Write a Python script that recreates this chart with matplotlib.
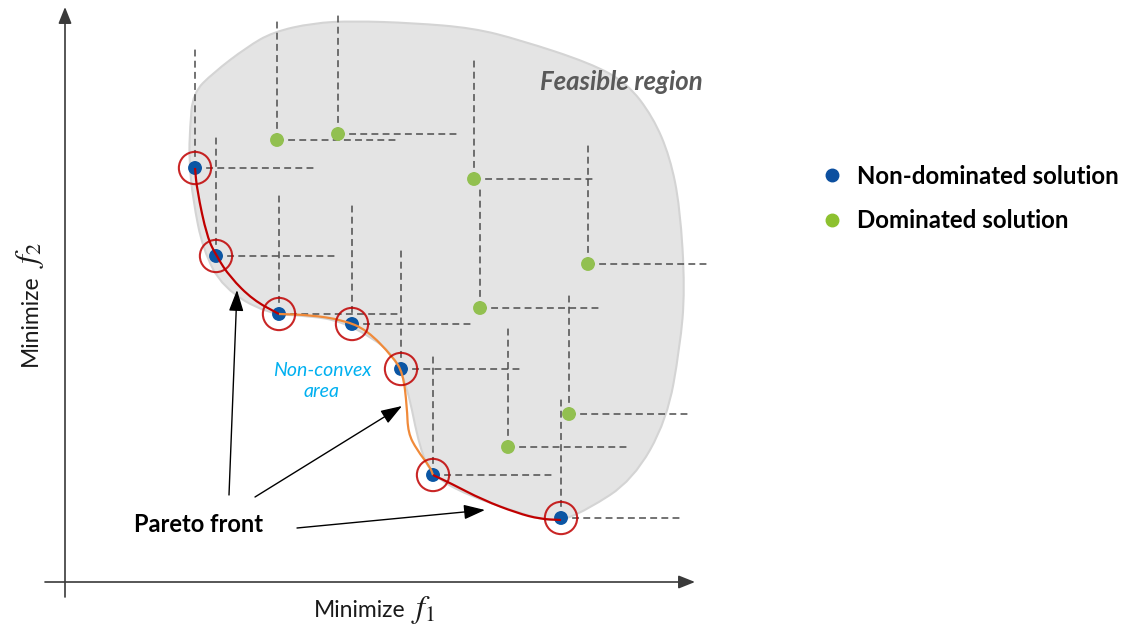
import numpy as np
import matplotlib
matplotlib.use("Agg")
import matplotlib.pyplot as plt
from matplotlib.path import Path
from matplotlib.patches import PathPatch
from matplotlib.lines import Line2D

plt.rcParams["font.family"] = ["Lato", "DejaVu Sans"]
plt.rcParams["mathtext.fontset"] = "stix"

# objective values (f1, f2), origin at the axes crossing
nd_f1 = [130, 151, 214, 287, 336, 368, 496]
nd_f2 = [414, 326, 268, 258, 213, 107, 64]
dom_f1 = [212, 273, 409, 523, 415, 504, 443]
dom_f2 = [442, 448, 403, 318, 274, 168, 135]

# pareto front pieces (convex part, non-convex part, convex part)
front_a_f1 = [130, 132, 142, 152, 165, 188, 214]
front_a_f2 = [414, 392, 345, 325, 305, 282, 268]
front_b_f1 = [214, 245, 278, 302, 328, 338, 342, 343, 352, 365, 368]
front_b_f2 = [268, 267, 262, 252, 225, 209, 175, 149, 132, 115, 107]
front_c_f1 = [368, 385, 418, 452, 475, 496]
front_c_f2 = [107, 99, 82, 69, 63, 62]

# outline of the feasible region
region_f1 = [125, 128, 148, 182, 208, 248, 288, 348, 408, 455, 525, 562, 588,
             605, 615, 620, 615, 602, 568, 522, 490, 452, 402, 368, 355, 342,
             328, 308, 275, 245, 202, 158, 138, 128, 124]
region_f2 = [455, 489, 509, 535, 550, 559, 561, 559, 554, 542, 519, 499, 465,
             425, 375, 292, 235, 162, 102, 72, 59, 70, 87, 106, 132, 197,
             227, 244, 261, 266, 268, 294, 332, 382, 422]

reach = 120  # length of the dominance guide lines

BLUE = "#0b56a4"
GREEN = "#92c050"
RED = "#c00000"


def smooth_open(xs, ys):
    p = np.column_stack([xs, ys]).astype(float)
    verts = [p[0], (p[0] + p[1]) / 2]
    codes = [Path.MOVETO, Path.LINETO]
    for i in range(1, len(p) - 1):
        verts += [p[i], (p[i] + p[i + 1]) / 2]
        codes += [Path.CURVE3, Path.CURVE3]
    verts.append(p[-1])
    codes.append(Path.LINETO)
    return Path(verts, codes)


def smooth_closed(xs, ys):
    p = np.column_stack([xs, ys]).astype(float)
    n = len(p)
    verts = [(p[-1] + p[0]) / 2]
    codes = [Path.MOVETO]
    for i in range(n):
        verts += [p[i], (p[i] + p[(i + 1) % n]) / 2]
        codes += [Path.CURVE3, Path.CURVE3]
    verts.append(verts[0])
    codes.append(Path.CLOSEPOLY)
    return Path(verts, codes)


fig = plt.figure(figsize=(11.24, 6.32), dpi=100)
ax = fig.add_axes([0, 0, 1, 1])
ax.set_xlim(-65, 1059)
ax.set_ylim(-50, 582)
ax.axis("off")

ax.add_patch(PathPatch(smooth_closed(region_f1, region_f2), facecolor="#e4e4e4",
                       edgecolor="#d4d4d4", lw=1.5, zorder=1))

# guide lines up and right of every solution
for x, y in zip(nd_f1 + dom_f1, nd_f2 + dom_f2):
    for xs, ys in (([x, x], [y, y + reach]), ([x, x + reach], [y, y])):
        ln, = ax.plot(xs, ys, color="#4d4d4d", lw=1.1, zorder=2)
        ln.set_dashes((4.5, 2.8))

ax.add_patch(PathPatch(smooth_open(front_a_f1, front_a_f2), fill=False,
                       edgecolor=RED, lw=1.6, zorder=4))
ax.add_patch(PathPatch(smooth_open(front_b_f1, front_b_f2), fill=False,
                       edgecolor="#f08a3a", lw=1.6, zorder=4))
ax.add_patch(PathPatch(smooth_open(front_c_f1, front_c_f2), fill=False,
                       edgecolor=RED, lw=1.6, zorder=4))

ax.scatter(dom_f1, dom_f2, s=100, color=GREEN, edgecolors="none", zorder=3)
ax.scatter(nd_f1, nd_f2, s=100, color=BLUE, edgecolors="none", zorder=3)
ax.scatter(nd_f1, nd_f2, s=540, facecolors="none", edgecolors=RED,
           linewidths=1.5, alpha=0.85, zorder=5)

# axes with arrow heads
axis_kw = dict(arrowstyle="-|>,head_length=1.0,head_width=0.4", color="#3a3a3a",
               lw=1.2, shrinkA=0, shrinkB=0, mutation_scale=10)
ax.annotate("", xy=(630, 0), xytext=(-20, 0), arrowprops=axis_kw)
ax.annotate("", xy=(0, 575), xytext=(0, -15), arrowprops=axis_kw)

# axis titles: word plus a larger math symbol
ax.text(340, -35, "Minimize", fontsize=16.5, ha="right", va="baseline",
        color="#1a1a1a")
ax.text(346, -35, "$f_1$", fontsize=23, ha="left", va="baseline",
        color="#1a1a1a")
ax.text(-28, 308, "Minimize", fontsize=16.5, ha="right", va="baseline",
        rotation=90, rotation_mode="anchor", color="#1a1a1a")
ax.text(-28, 314, "$f_2$", fontsize=23, ha="left", va="baseline",
        rotation=90, rotation_mode="anchor", color="#1a1a1a")

# pointers to the pareto front
ptr_kw = dict(arrowstyle="-|>,head_length=1.3,head_width=0.45", color="black",
              lw=1.0, shrinkA=0, shrinkB=0, mutation_scale=10)
ax.annotate("", xy=(172, 292), xytext=(164, 87), arrowprops=ptr_kw)
ax.annotate("", xy=(337, 176), xytext=(190, 85), arrowprops=ptr_kw)
ax.annotate("", xy=(420, 72), xytext=(232, 54), arrowprops=ptr_kw)
ax.text(134, 57, "Pareto front", fontsize=17, fontweight="bold", ha="center",
        va="center", color="black")

ax.text(257, 201, "Non-convex\narea", fontsize=14, style="italic",
        ha="center", va="center", color="#00b0f0", linespacing=1.25)
ax.text(556, 500, "Feasible region", fontsize=18.5, fontweight="bold",
        style="italic", ha="center", va="center", color="#595959")

handles = [Line2D([], [], ls="none", marker="o", ms=9, color="#0c4f9f"),
           Line2D([], [], ls="none", marker="o", ms=9, color="#8dc12f")]
ax.legend(handles, ["Non-dominated solution", "Dominated solution"],
          loc="upper left", bbox_to_anchor=(798 / 1124, 1 - 143 / 632),
          frameon=False, prop=dict(weight="bold", size=17.3),
          handletextpad=0.5, labelspacing=0.9, handlelength=1.05)

fig.savefig("out.png", dpi=100)
